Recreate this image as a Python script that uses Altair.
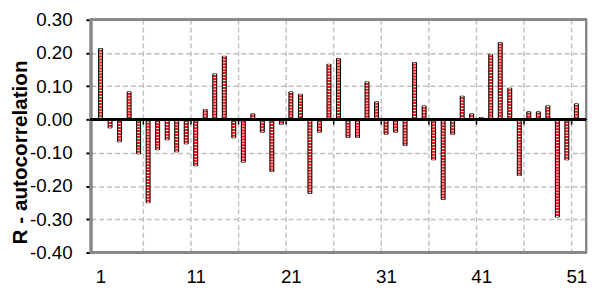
import altair as alt
import pandas as pd

lags = list(range(1, 52))
acf = [0.213, -0.025, -0.067, 0.083, -0.103, -0.250, -0.091, -0.061, -0.097, -0.073,
       -0.139, 0.030, 0.137, 0.190, -0.055, -0.128, 0.017, -0.038, -0.156, -0.014,
       0.083, 0.076, -0.222, -0.038, 0.166, 0.183, -0.054, -0.054, 0.113, 0.053,
       -0.044, -0.038, -0.078, 0.171, 0.041, -0.121, -0.240, -0.044, 0.070, 0.017,
       0.006, 0.196, 0.231, 0.094, -0.168, 0.023, 0.023, 0.041, -0.293, -0.121,
       0.047]
x_labels = [1, 11, 21, 31, 41, 51]
y_ticks = [-0.4, -0.3, -0.2, -0.1, 0.0, 0.1, 0.2, 0.3]
boundaries = [i + 0.5 for i in range(5, 51, 5)]
y_title = "R - autocorrelation"

df = pd.DataFrame({"lag": lags, "r": acf})
bdf = pd.DataFrame({"b": boundaries})

FONT = "Liberation Sans"
xscale = alt.Scale(domain=[0.5, 51.5], nice=False, zero=False)
yscale = alt.Scale(domain=[-0.4, 0.3], nice=False, zero=False)

x_axis = alt.Axis(values=x_labels, grid=False, ticks=False, domain=False,
                  labelFontSize=19, labelFont=FONT, labelColor="black",
                  labelPadding=15, title=None, format="d")
y_axis = alt.Axis(values=y_ticks, grid=True, gridColor="#c0c0c0", gridDash=[5, 3],
                  gridWidth=1.5, domain=True, domainColor="black", domainWidth=2,
                  ticks=True, tickColor="black", tickWidth=2, tickSize=5,
                  labelFontSize=19, labelFont=FONT, labelColor="black",
                  labelPadding=14,
                  labelExpr="replace(format(datum.value, '.2f'), '\u2212', '-')",
                  title=y_title, titleFont=FONT, titleFontSize=21,
                  titleFontWeight="bold", titleColor="black", titleAngle=270,
                  titleBaseline="alphabetic", titleX=-65, titleY=134)

vgrid = alt.Chart(bdf).mark_rule(color="#c0c0c0", strokeWidth=1.5, strokeDash=[5, 3]).encode(
    x=alt.X("b:Q", scale=xscale, axis=x_axis)
)

frame = alt.Chart(bdf).mark_rect(fill=None, stroke="#888888", strokeWidth=2).encode(
    x=alt.value(0), x2=alt.value(502), y=alt.value(0), y2=alt.value(236)
)

bars = alt.Chart(df).mark_bar(size=4, color="#f01818", stroke="black", strokeWidth=1).encode(
    x=alt.X("lag:Q", scale=xscale, axis=x_axis),
    y=alt.Y("r:Q", scale=yscale, axis=y_axis),
    y2=alt.Y2(datum=0),
)

dots = alt.Chart(df).mark_rule(color="white", strokeWidth=2.5, strokeDash=[1, 2]).encode(
    x=alt.X("lag:Q", scale=xscale, axis=x_axis),
    y=alt.Y("r:Q", scale=yscale, axis=y_axis),
    y2=alt.Y2(datum=0),
)

zero = alt.Chart(df).mark_rule(color="black", strokeWidth=1.5).encode(
    y=alt.Y(datum=0, scale=yscale, axis=y_axis)
)

zticks = alt.Chart(bdf).mark_rule(color="black", strokeWidth=1.5).encode(
    x=alt.X("b:Q", scale=xscale, axis=x_axis),
    y=alt.Y(datum=0, scale=yscale, axis=y_axis),
    y2=alt.Y2(datum=-0.015),
)

chart = alt.layer(vgrid, frame, bars, dots, zero, zticks).properties(
    width=502, height=236,
    autosize=alt.AutoSizeParams(type="none"),
    padding={"left": 84, "top": 10, "right": 5, "bottom": 33},
).configure_view(stroke=None).configure(background="white")

chart.save("out.html", embed_options={"renderer": "svg", "actions": False})
